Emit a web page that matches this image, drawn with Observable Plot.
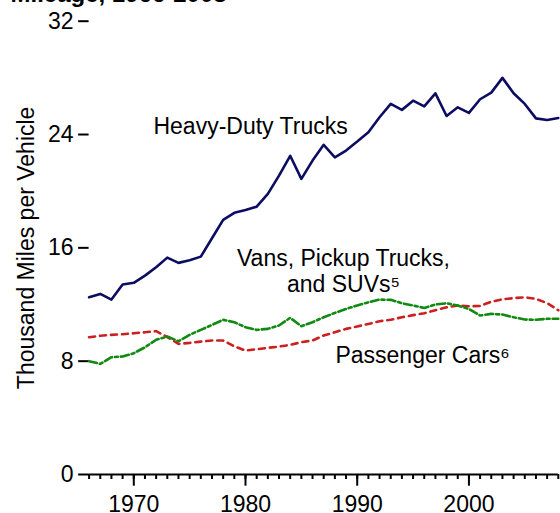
<!DOCTYPE html>
<html><head><meta charset="utf-8">
<script src="https://cdn.jsdelivr.net/npm/d3@7"></script>
<script src="https://cdn.jsdelivr.net/npm/@observablehq/plot@0.6"></script>
<style>html,body{margin:0;padding:0;background:#fff;overflow:hidden}</style>
</head><body><div id="chart"></div>
<script>
const years = [1966,1967,1968,1969,1970,1971,1972,1973,1974,1975,1976,1977,1978,1979,1980,1981,1982,1983,1984,1985,1986,1987,1988,1989,1990,1991,1992,1993,1994,1995,1996,1997,1998,1999,2000,2001,2002,2003,2004,2005,2006,2007,2008];
const heavyDutyTrucks = [12.51,12.75,12.35,13.41,13.53,14.04,14.63,15.31,14.94,15.12,15.38,16.68,17.97,18.47,18.68,18.91,19.81,21.1,22.5,20.87,22.16,23.27,22.39,22.87,23.5,24.16,25.22,26.16,25.74,26.39,25.99,26.91,25.31,25.92,25.53,26.49,26.96,28.0,26.91,26.16,25.14,25.03,25.17];
const passengerCars = [9.69,9.79,9.86,9.9,9.97,10.04,10.12,9.7,9.22,9.29,9.38,9.46,9.46,9.05,8.75,8.84,8.94,9.03,9.15,9.34,9.46,9.81,10.04,10.28,10.45,10.63,10.82,10.92,11.1,11.25,11.38,11.6,11.8,11.93,11.88,11.9,12.2,12.37,12.45,12.51,12.4,12.1,11.6];
const vansPickupsSUVs = [8.0,7.81,8.28,8.33,8.56,8.98,9.51,9.74,9.41,9.86,10.21,10.56,10.92,10.75,10.4,10.21,10.28,10.52,11.06,10.47,10.75,11.1,11.41,11.69,11.93,12.16,12.35,12.33,12.09,11.93,11.76,12.0,12.09,11.93,11.69,11.22,11.34,11.29,11.1,10.94,10.92,10.99,10.99];
const yTicks = [0, 8, 16, 24, 32];
const xMajorTicks = [1970, 1980, 1990, 2000];
const titleText = "Mileage, 1966-2008";
const yLabel = "Thousand Miles per Vehicle";
const labelTrucks = {text: "Heavy-Duty Trucks", year: 1971.76, value: 24.07};
const labelVans = {text: "Vans, Pickup Trucks,\nand SUVs\u2075", year: 1988.77, value: 12.86};
const labelCars = {text: "Passenger Cars\u2076", year: 1988.05, value: 7.85};

const rows = (vals) => years.map((y, i) => ({year: y, value: vals[i]}));
const FONT = "'Liberation Sans', Arial, sans-serif";
const FS = 23;

const chart = Plot.plot({
  width: 560,
  height: 513,
  marginLeft: 88.6,
  marginRight: 2.2,
  marginTop: 20.7,
  marginBottom: 39,
  style: {fontFamily: FONT, fontSize: FS + "px", color: "#000", background: "#fff", overflow: "hidden"},
  x: {domain: [1966, 2008], axis: null},
  y: {domain: [0, 32], axis: null},
  marks: [
    Plot.axisY(yTicks, {tickSize: 10.5, tickPadding: 5, strokeWidth: 2, label: null, fontSize: FS}),
    Plot.axisX(years, {tickSize: 5, tickFormat: () => "", strokeWidth: 2, label: null}),
    Plot.axisX(xMajorTicks, {tickSize: 11.7, tickPadding: 9, tickFormat: "d", strokeWidth: 2, label: null, fontSize: FS}),
    Plot.ruleY([0], {strokeWidth: 2}),
    Plot.line(rows(passengerCars), {x: "year", y: "value", stroke: "#cc2020", strokeWidth: 2.6, strokeDasharray: "6,5"}),
    Plot.line(rows(vansPickupsSUVs), {x: "year", y: "value", stroke: "#108a10", strokeWidth: 2.6, strokeDasharray: "8,3,3,3"}),
    Plot.line(rows(heavyDutyTrucks), {x: "year", y: "value", stroke: "#0c0c60", strokeWidth: 2.6}),
    Plot.text([labelTrucks], {x: "year", y: "value", text: "text", textAnchor: "start", lineAnchor: "bottom", fontSize: FS}),
    Plot.text([labelVans], {x: "year", y: "value", text: "text", textAnchor: "middle", lineAnchor: "bottom", lineHeight: 1.13, fontSize: FS}),
    Plot.text([labelCars], {x: "year", y: "value", text: "text", textAnchor: "start", lineAnchor: "bottom", fontSize: FS}),
    Plot.text([yLabel], {frameAnchor: "left", text: d => d, rotate: -90, textAnchor: "middle", lineAnchor: "bottom", dx: -55.3, fontSize: FS}),
    Plot.text([titleText], {frameAnchor: "top-left", text: d => d, textAnchor: "start", lineAnchor: "bottom", dx: 10 - 88.6, dy: 1.5 - 20.7, fontSize: 24, fontWeight: "bold"})
  ]
});
document.getElementById("chart").appendChild(chart);
</script>
</body></html>
